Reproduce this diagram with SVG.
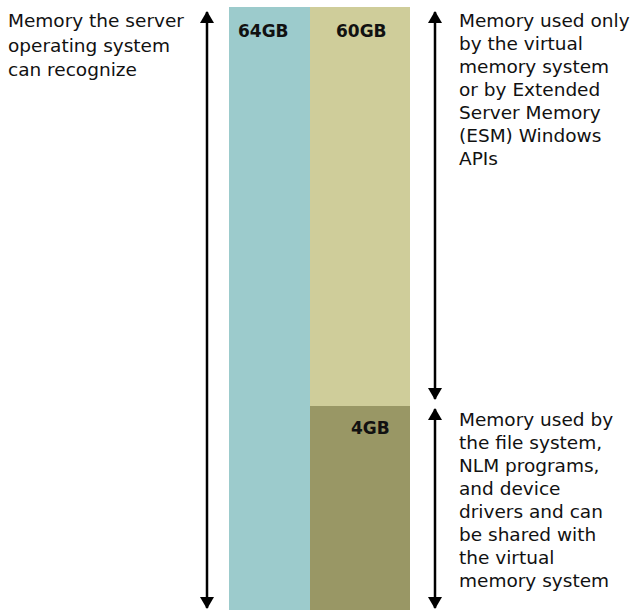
<svg xmlns="http://www.w3.org/2000/svg" width="632" height="610" viewBox="0 0 632 610">
<style>
.t{font-family:"DejaVu Sans","Liberation Sans",sans-serif;font-size:18.5px;fill:#111}
.b{font-family:"DejaVu Sans","Liberation Sans",sans-serif;font-size:17px;font-weight:bold;fill:#111}
.ln{stroke:#000;stroke-width:2.5;fill:none}
</style>
<defs>
<marker id="ah" viewBox="0 0 12 14" refX="11" refY="7" markerWidth="12" markerHeight="14" markerUnits="userSpaceOnUse" orient="auto-start-reverse">
<path d="M0,0 L12,7 L0,14 Z" fill="#000"/>
</marker>
</defs>
<rect width="632" height="610" fill="#fff"/>
<g id="block64">
<rect x="229" y="7" width="81" height="603" fill="#9ccbcc"/>
<text class="b" x="238" y="37">64GB</text>
</g>
<g id="block60">
<rect x="310" y="7" width="100" height="399" fill="#cfcd9a"/>
<text class="b" x="336" y="37">60GB</text>
</g>
<g id="block4">
<rect x="310" y="406" width="100" height="204" fill="#999765"/>
<text class="b" x="351" y="434">4GB</text>
</g>
<g id="connectors">
<line class="ln" x1="207" y1="12" x2="207" y2="608" marker-start="url(#ah)" marker-end="url(#ah)"/>
<line class="ln" x1="435" y1="12" x2="435" y2="399" marker-start="url(#ah)" marker-end="url(#ah)"/>
<line class="ln" x1="435" y1="409" x2="435" y2="608" marker-start="url(#ah)" marker-end="url(#ah)"/>
</g>
<g id="label-left">
<text class="t" x="8" y="27">Memory the server</text>
<text class="t" x="8" y="51.5">operating system</text>
<text class="t" x="8" y="76">can recognize</text>
</g>
<g id="label-upper">
<text class="t" x="459" y="27">Memory used only</text>
<text class="t" x="459" y="50">by the virtual</text>
<text class="t" x="459" y="73">memory system</text>
<text class="t" x="459" y="96">or by Extended</text>
<text class="t" x="459" y="119">Server Memory</text>
<text class="t" x="459" y="142">(ESM) Windows</text>
<text class="t" x="459" y="165">APIs</text>
</g>
<g id="label-lower">
<text class="t" x="459" y="426">Memory used by</text>
<text class="t" x="459" y="449">the file system,</text>
<text class="t" x="459" y="472">NLM programs,</text>
<text class="t" x="459" y="495">and device</text>
<text class="t" x="459" y="518">drivers and can</text>
<text class="t" x="459" y="541">be shared with</text>
<text class="t" x="459" y="564">the virtual</text>
<text class="t" x="459" y="587">memory system</text>
</g>
</svg>
